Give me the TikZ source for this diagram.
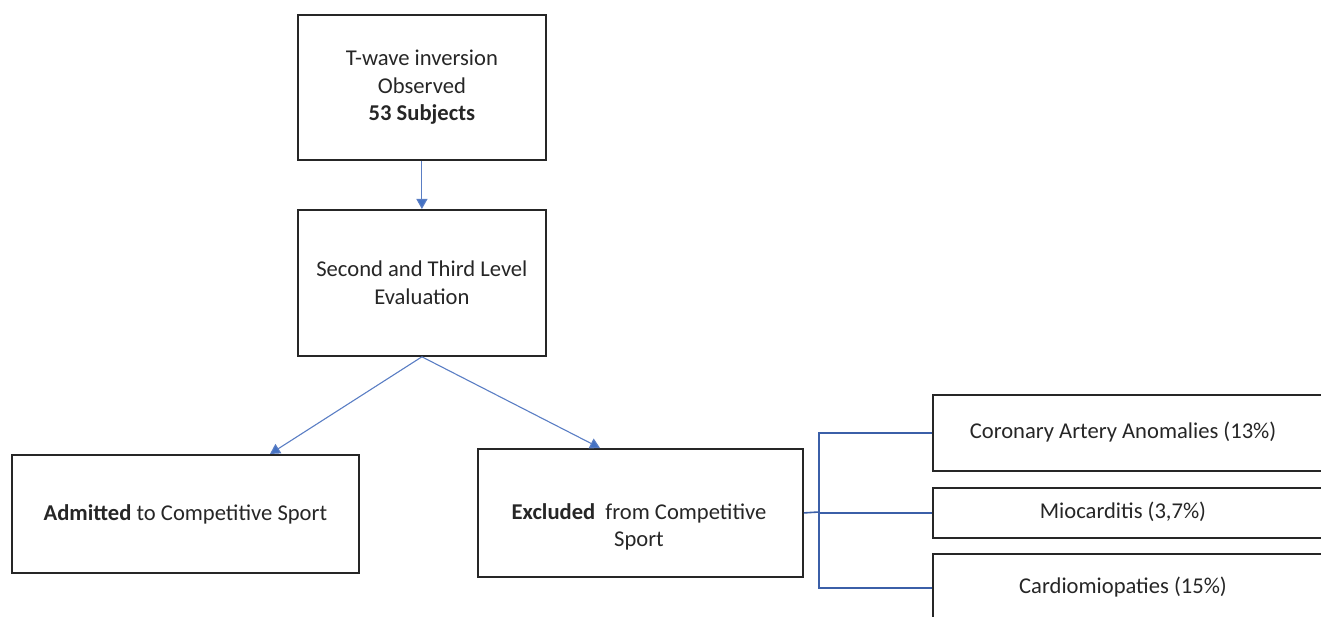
\documentclass[tikz,border=0pt]{standalone}
\usepackage{fontspec}
\setmainfont{Carlito}
\usetikzlibrary{arrows.meta}
\definecolor{arrowblue}{HTML}{5A7EC4}
\definecolor{treeblue}{HTML}{3B5FA8}
\definecolor{tipblue}{HTML}{4472C4}
\begin{document}
\begin{tikzpicture}[x=1pt,y=-1pt,
  box/.style={draw=black!85,line width=1.8pt,rectangle,inner sep=0pt,anchor=north west},
  txt/.style={align=center,inner sep=0pt,text=black!85,font=\fontsize{22.6}{27.5}\selectfont},
  flow/.style={draw=arrowblue,line width=1.1pt,-{Triangle[length=10pt,width=11pt,fill=tipblue]}},
  tree/.style={draw=treeblue,line width=1.6pt}]
\useasboundingbox (0,0) rectangle (1321,617);
\clip (0,0) rectangle (1321,617);
% boxes
\node[box,minimum width=248pt,minimum height=145pt] (b1) at (297,14) {};
\node[box,minimum width=248pt,minimum height=146pt] (b2) at (297,209) {};
\node[box,minimum width=347pt,minimum height=118pt] (b3) at (11,454) {};
\node[box,minimum width=325pt,minimum height=128pt] (b4) at (477,448) {};
\node[box,minimum width=410pt,minimum height=76pt] (b5) at (932,394) {};
\node[box,minimum width=410pt,minimum height=50pt] (b6) at (932,487) {};
\node[box,minimum width=410pt,minimum height=68pt] (b7) at (932,553) {};
% texts
\node[txt] (t1) at (b1.center) {T-wave inversion\\Observed\\\textbf{53 Subjects}};
\node[txt] (t2) at (b2.center) {Second and Third Level\\Evaluation};
\node[txt] (t3) at (b3.center) {\textbf{Admitted} to Competitive Sport};
\node[txt] (t4) at (639,527) {\textbf{Excluded}\ \ from Competitive\\Sport};
\node[txt] (t5) at (1123,432) {Coronary Artery Anomalies (13\%)};
\node[txt] (t6) at (1123,512) {Miocarditis (3,7\%)};
\node[txt] (t7) at (1123,587) {Cardiomiopaties (15\%)};
% arrows
\draw[flow] (b1.south) -- (b1.south |- b2.north);
\draw[flow] (b2.south) -- (270,454);
\draw[flow] (b2.south) -- (600,448);
% tree
\coordinate (j) at (819,512);
\draw[tree] (b4.east) -- (j);
\draw[tree] (j) |- (b5.west);
\draw[tree] (j) |- (b6.west);
\draw[tree] (j) |- (b7.west);
\end{tikzpicture}
\end{document}
